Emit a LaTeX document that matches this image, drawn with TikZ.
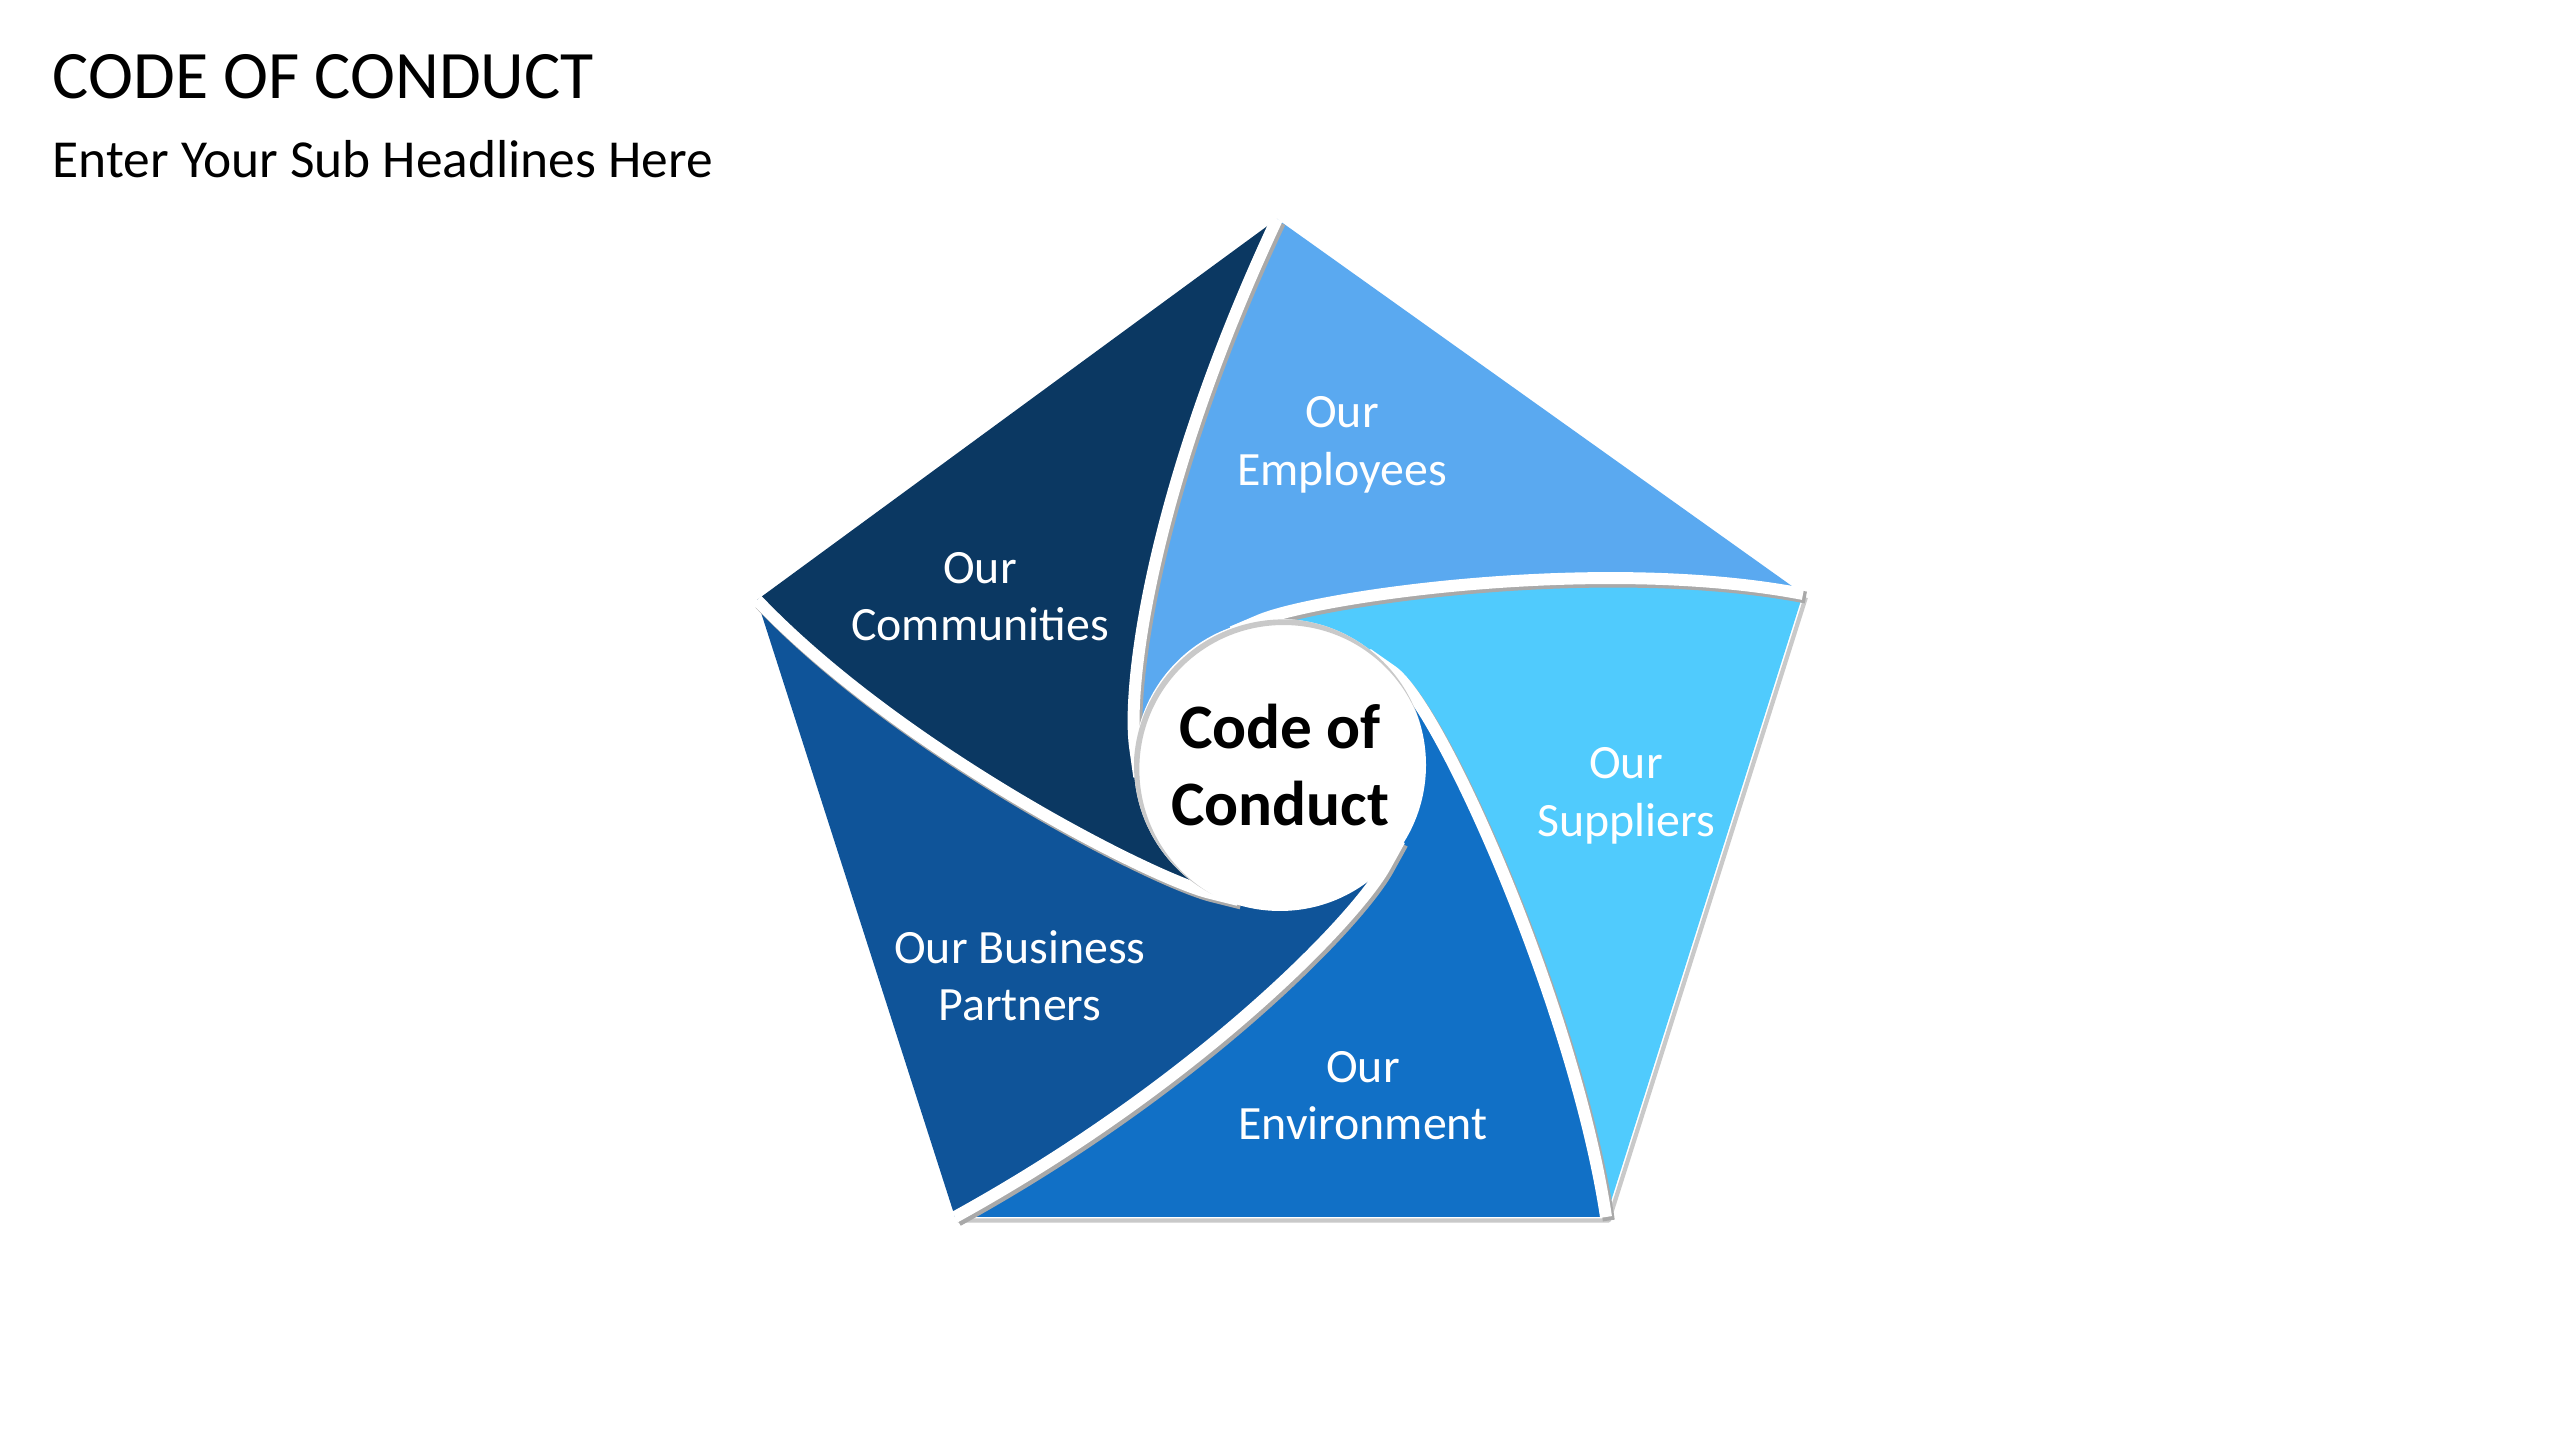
\documentclass[tikz,border=0pt]{standalone}
\usepackage{fontspec}
\setmainfont{Carlito}
\usetikzlibrary{calc}
\definecolor{commcol}{HTML}{0B3862}
\definecolor{emplcol}{HTML}{5AA9F0}
\definecolor{suppcol}{HTML}{50CBFD}
\definecolor{envcol}{HTML}{1170C6}
\definecolor{partcol}{HTML}{0F5499}
\definecolor{shadecol}{HTML}{A9A9A9}
\definecolor{edgeshadecol}{HTML}{C9C9C9}

% one blade: edge from corner #1 to corner #2, in along swirl #2, through the hub, out along swirl #1
\newcommand{\bladepath}[2]{(v#1) -- (v#2) .. controls (c#21) and (c#22) .. (x#2) -- (e#2) -- (O)
  -- (e#1) -- (x#1) .. controls (c#12) and (c#11) .. (v#1) -- cycle}

\begin{document}
\begin{tikzpicture}[x=0.01cm,y=0.01cm,
    cut/.style={draw=white,line width=3.4pt},
    cutshade/.style={draw=shadecol,line width=3.4pt,transform canvas={xshift=0.8pt,yshift=-1pt}},
    edgeshade/.style={draw=edgeshadecol,line width=1.2pt,line join=round,
      transform canvas={xshift=0.8pt,yshift=-1pt}},
    hubshade/.style={draw=edgeshadecol,line width=1.6pt,transform canvas={xshift=1pt,yshift=-1.2pt}},
    lbl/.style={text=white,align=center,inner sep=0pt,font=\fontsize{13.6}{16.3}\selectfont},
    hub/.style={text=black,align=center,inner sep=0pt,font=\fontsize{18}{21.8}\selectfont\bfseries},
    head/.style={anchor=base west,inner sep=0pt,text=black}]
  \path[use as bounding box,fill=white] (0,0) rectangle (2560,1440);
  % pentagon corners and hub
  \coordinate (O) at (1280,675);
  \coordinate (vt) at (1277,1221);
  \coordinate (vur) at (1803,846);
  \coordinate (vlr) at (1606,223);
  \coordinate (vll) at (955,223);
  \coordinate (vul) at (757,840);
  % swirls: first control, then where each one dips into the hub
  \foreach \v/\ang/\px/\py in {t/173/1150/950,ur/98/1600/885,lr/40/1575/430,ll/316/1200/358,ul/241/900/690}{
    \coordinate (c\v1) at (\px,\py);
    \coordinate (x\v) at ($(O)+(\ang:146)$);
    \coordinate (c\v2) at ($(x\v)+({\ang-75}:60)$);
    \coordinate (e\v) at ($(x\v)+({\ang+105}:30)$);
  }
  % shadow under the lower edges
  \draw[edgeshade] (vll) -- (vlr) -- (vur);
  % blades
  \foreach \va/\vb/\col in {ur/t/emplcol,t/ul/commcol,ul/ll/partcol,ll/lr/envcol,lr/ur/suppcol}
    \fill[fill=\col] \bladepath{\va}{\vb};
  % white gaps along the swirls
  \foreach \v in {t,ur,lr,ll,ul}
    \draw[cutshade] (v\v) .. controls (c\v1) and (c\v2) .. (x\v) -- (e\v);
  \foreach \v in {t,ur,lr,ll,ul}
    \draw[cut] (v\v) .. controls (c\v1) and (c\v2) .. (x\v) -- (e\v);
  % hub
  \fill[white] (O) circle[radius=146];
  \begin{scope}
    \clip (O) circle[radius=146];
    \draw[hubshade] (O) circle[radius=147];
  \end{scope}
  % texts
  \node[lbl] (empl) at (1342,995) {Our\\Employees};
  \node[lbl] (comm) at (980,843) {Our\\Communities};
  \node[lbl] (supp) at (1626,644) {Our\\Suppliers};
  \node[lbl] (env) at (1363,344) {Our\\Environment};
  \node[lbl] (part) at (1020,464) {Our Business\\Partners};
  \node[hub] (code) at (O) {Code of\\Conduct};
  \node[head,font=\fontsize{19.3}{23}\selectfont] (title) at (52,1341) {CODE OF CONDUCT};
  \node[head,font=\fontsize{15.2}{18}\selectfont] (subtitle) at (52,1262) {Enter Your Sub Headlines Here};
\end{tikzpicture}
\end{document}
